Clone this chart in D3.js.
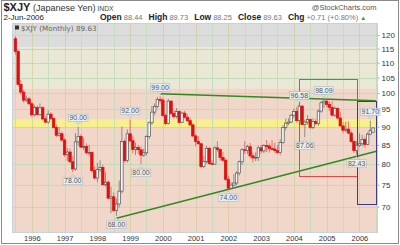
<!DOCTYPE html>
<html><head><meta charset="utf-8">
<script src="https://cdn.jsdelivr.net/npm/d3@7"></script>
<style>body{margin:0;background:#fff}svg{display:block}</style>
</head><body>
<script>
// ---------- DATA ----------
const months = [
 "1995-07","1995-08","1995-09","1995-10","1995-11","1995-12",
 "1996-01","1996-02","1996-03","1996-04","1996-05","1996-06","1996-07","1996-08","1996-09","1996-10","1996-11","1996-12",
 "1997-01","1997-02","1997-03","1997-04","1997-05","1997-06","1997-07","1997-08","1997-09","1997-10","1997-11","1997-12",
 "1998-01","1998-02","1998-03","1998-04","1998-05","1998-06","1998-07","1998-08","1998-09","1998-10","1998-11","1998-12",
 "1999-01","1999-02","1999-03","1999-04","1999-05","1999-06","1999-07","1999-08","1999-09","1999-10","1999-11","1999-12",
 "2000-01","2000-02","2000-03","2000-04","2000-05","2000-06","2000-07","2000-08","2000-09","2000-10","2000-11","2000-12",
 "2001-01","2001-02","2001-03","2001-04","2001-05","2001-06","2001-07","2001-08","2001-09","2001-10","2001-11","2001-12",
 "2002-01","2002-02","2002-03","2002-04","2002-05","2002-06","2002-07","2002-08","2002-09","2002-10","2002-11","2002-12",
 "2003-01","2003-02","2003-03","2003-04","2003-05","2003-06","2003-07","2003-08","2003-09","2003-10","2003-11","2003-12",
 "2004-01","2004-02","2004-03","2004-04","2004-05","2004-06","2004-07","2004-08","2004-09","2004-10","2004-11","2004-12",
 "2005-01","2005-02","2005-03","2005-04","2005-05","2005-06","2005-07","2005-08","2005-09","2005-10","2005-11","2005-12",
 "2006-01","2006-02","2006-03","2006-04","2006-05","2006-06"];
const open = [
 118.6,114.0,102.8,100.3,97.8,98.2,
 96.7,93.4,95.6,93.5,95.5,92.2,91.3,93.6,92.3,89.8,87.6,88.0,
 86.3,82.4,83.1,80.6,78.8,85.8,87.3,84.4,84.6,82.9,83.0,78.4,
 76.6,78.7,79.2,75.0,75.6,71.9,72.2,69.2,70.6,73.5,85.9,80.9,
 88.0,86.1,83.8,84.3,83.7,82.3,82.9,87.3,91.1,94.2,95.9,98.0,
 97.8,93.2,90.9,97.5,93.8,92.9,94.4,91.2,93.9,92.7,91.7,90.5,
 87.4,85.9,85.3,79.4,80.7,84.1,80.2,80.0,84.2,83.8,81.7,81.0,
 76.3,74.2,74.9,75.4,77.8,80.6,83.7,83.5,84.5,82.1,81.6,81.7,
 84.2,83.4,84.8,84.7,84.0,83.9,83.5,83.0,85.6,89.8,91.0,91.3,
 93.3,94.4,91.7,96.0,90.6,91.3,92.0,89.8,91.5,90.9,94.5,97.0,
 97.5,96.5,95.6,93.3,95.3,92.5,90.2,89.0,89.3,88.2,85.9,83.5,
 84.9,85.3,86.4,85.1,87.9,88.44];
const high = [
 119.6,114.6,104.2,101.0,99.2,98.8,
 97.4,96.4,96.2,96.8,96.0,92.9,94.8,94.2,92.6,90.6,89.9,88.6,
 86.8,84.2,84.0,82.0,88.2,90.0,87.9,86.8,85.4,85.0,83.3,79.5,
 80.3,81.0,79.8,78.0,76.0,74.5,73.2,71.8,76.0,90.0,86.5,89.2,
 92.0,87.5,85.6,85.0,84.6,84.0,87.6,91.5,96.0,96.8,98.8,99.0,
 98.6,93.8,98.2,97.8,94.8,95.4,94.7,94.3,94.6,93.6,92.6,90.9,
 88.0,87.4,85.6,82.0,84.7,84.4,81.0,84.6,86.0,84.0,83.1,81.5,
 77.2,75.6,77.5,78.2,80.9,84.2,86.0,85.0,85.5,83.0,83.0,84.8,
 85.0,85.2,86.3,85.4,86.3,85.6,85.0,86.4,90.4,92.3,92.4,93.6,
 95.2,95.6,96.58,96.2,92.0,93.3,92.4,92.4,92.2,95.0,97.5,98.09,
 98.0,97.4,97.5,95.9,95.6,94.2,91.2,91.4,91.5,88.8,86.2,86.0,
 88.1,87.7,87.2,88.4,91.70,89.73];
const low = [
 112.8,102.0,99.5,97.0,97.2,96.3,
 92.8,93.0,93.0,93.2,91.8,91.0,90.8,91.9,89.4,87.1,87.2,85.8,
 81.9,80.8,80.2,78.0,78.4,84.8,84.0,83.6,82.4,82.0,77.9,76.2,
 75.6,78.0,74.8,74.5,71.6,68.6,68.8,68.0,69.8,73.0,80.4,80.4,
 85.5,82.8,82.3,82.6,80.0,81.8,82.3,86.6,90.5,93.3,95.3,96.8,
 92.8,90.4,90.6,93.3,92.3,92.4,90.9,91.0,92.3,91.4,90.1,87.1,
 84.6,85.0,79.0,79.0,80.2,79.8,79.6,79.9,83.2,80.9,80.6,75.9,
 74.0,74.1,74.6,74.9,77.2,79.8,82.6,82.6,81.5,80.4,80.8,80.8,
 82.7,82.8,83.1,83.0,83.6,82.9,82.6,82.3,85.3,89.0,90.4,91.0,
 92.5,91.2,90.6,90.3,87.06,90.6,89.3,89.3,90.4,90.2,94.0,95.4,
 95.6,94.5,92.9,92.8,92.0,90.0,88.1,88.5,87.9,85.6,82.9,82.43,
 84.4,84.6,84.2,84.9,87.6,88.25];
const close = [
 114.0,102.8,100.3,97.8,98.2,96.7,
 93.4,95.6,93.5,95.5,92.2,91.3,93.6,92.3,89.8,87.6,88.0,86.3,
 82.4,83.1,80.6,78.8,85.8,87.3,84.4,84.6,82.9,83.0,78.4,76.6,
 78.7,79.2,75.0,75.6,71.9,72.2,69.2,70.6,73.5,85.9,80.9,88.0,
 86.1,83.8,84.3,83.7,82.3,82.9,87.3,91.1,94.2,95.9,98.0,97.8,
 93.2,90.9,97.5,93.8,92.9,94.4,91.2,93.9,92.7,91.7,90.5,87.4,
 85.9,85.3,79.4,80.7,84.1,80.2,80.0,84.2,83.8,81.7,81.0,76.3,
 74.2,74.9,75.4,77.8,80.6,83.7,83.5,84.5,82.1,81.6,81.7,84.2,
 83.4,84.8,84.7,84.0,83.9,83.5,83.0,85.6,89.8,91.0,91.3,93.3,
 94.4,91.7,96.0,90.6,91.3,92.0,89.8,91.5,90.9,94.5,97.0,97.5,
 96.5,95.6,93.3,95.3,92.5,90.2,89.0,89.3,88.2,85.9,83.5,84.9,
 85.3,86.4,85.1,87.9,88.92,89.63];

const yTicks = [70,75,80,85,90,95,100,105,110,115,120];
const xYears = [1996,1997,1998,1999,2000,2001,2002,2003,2004,2005,2006];

// price-label annotations
const annoMonths = ["1997-06","1999-01","1999-12","1997-04","1999-05","1998-08","2002-01","2004-05","2004-03","2004-12","2005-12","2006-05"];
const annoValues = [90.00,92.00,99.00,78.00,80.00,68.00,74.00,87.06,96.58,98.09,82.43,91.70];
const annoKinds  = ["high","high","high","low","low","low","low","low","high","high","low","high"];

// zones (values)
const grayZoneFrom = 115.5;
const pinkZoneTo = 101.5;
const yellowBand = [89.9, 92.1];

// trend lines [fractional year, value]
const upperTrend = [[1999.917, 99.8],[2006.5, 97.6]];
const lowerTrend = [[1998.583, 67.5],[2006.55, 83.4]];
// boxes [year0, year1, valueTop, valueBottom]
const redBox  = [2004.167, 2005.936, 104.4, 76.9];
const blueBox = [2005.94, 2006.507, 97.6, 70.7];

// ---------- CHART ----------
const W=400,H=245;
const svg=d3.select("body").append("svg").attr("width",W).attr("height",H)
  .style("font-family","'Liberation Sans',Arial,sans-serif");
const P={l:12.5,r:377.5,t:23.5,b:232.5};
const toYear=m=>{const a=m.split("-").map(Number);return a[0]+(a[1]-1)/12;};
const x=d3.scaleLinear().domain([1996,2006]).range([31.8,359.4]);
const y=d3.scaleLog().domain([70,120]).range([206.7,35]);
const px=v=>Math.round(v)+0.5;

// outer border
svg.append("rect").attr("x",1.5).attr("y",0.5).attr("width",397).attr("height",243)
  .attr("fill","none").attr("stroke","#8a8a8a");

svg.append("clipPath").attr("id","clip").append("rect")
  .attr("x",P.l).attr("y",P.t).attr("width",P.r-P.l).attr("height",P.b-P.t);
const g=svg.append("g").attr("clip-path","url(#clip)");

// zones
g.append("rect").attr("x",P.l).attr("y",P.t).attr("width",P.r-P.l).attr("height",y(grayZoneFrom)-P.t).attr("fill","#dcdcdc");
g.append("rect").attr("x",P.l).attr("y",y(grayZoneFrom)).attr("width",P.r-P.l).attr("height",y(pinkZoneTo)-y(grayZoneFrom)).attr("fill","#e9e7d5");
g.append("rect").attr("x",P.l).attr("y",y(pinkZoneTo)).attr("width",P.r-P.l).attr("height",P.b-y(pinkZoneTo)).attr("fill","#f1d7ca");
g.append("rect").attr("x",P.l).attr("y",y(yellowBand[1])).attr("width",P.r-P.l).attr("height",y(yellowBand[0])-y(yellowBand[1])).attr("fill","#f7f08c");

// grid
g.selectAll("line.hg").data(yTicks).join("line").attr("class","hg")
  .attr("x1",P.l).attr("x2",P.r).attr("y1",d=>px(y(d))).attr("y2",d=>px(y(d)))
  .attr("stroke","#bfdcb6").attr("stroke-width",1);
const halfYears=d3.range(1995.5,2006.6,0.5);
g.selectAll("line.vg").data(halfYears).join("line").attr("class","vg")
  .attr("x1",d=>px(x(d))).attr("x2",d=>px(x(d))).attr("y1",P.t).attr("y2",P.b)
  .attr("stroke",d=>Number.isInteger(d)?"#cfcc98":"#c6dcbc")
  .attr("stroke-dasharray",d=>Number.isInteger(d)?"2,1":null);

// header in plot
g.append("rect").attr("x",15).attr("y",25.5).attr("width",4).attr("height",4).attr("fill","#333");
g.append("text").attr("x",21).attr("y",30.5).attr("font-family","'DejaVu Sans',Verdana,sans-serif")
  .attr("font-size",7.2).attr("fill","#666").text("$XJY (Monthly) 89.63");

// trend lines and boxes
const line=d3.line().x(d=>x(d[0])).y(d=>y(d[1]));
g.append("path").attr("d",line(upperTrend)).attr("fill","none").attr("stroke","#2e8b22").attr("stroke-width",1.5);
g.append("path").attr("d",line(lowerTrend)).attr("fill","none").attr("stroke","#2e8b22").attr("stroke-width",1.5);
g.append("rect").attr("x",px(x(redBox[0]))).attr("y",px(y(redBox[2]))).attr("width",Math.round(x(redBox[1])-x(redBox[0]))).attr("height",Math.round(y(redBox[3])-y(redBox[2])))
  .attr("fill","none").attr("stroke","#e8463f").attr("stroke-width",1);
g.append("rect").attr("x",px(x(blueBox[0]))).attr("y",px(y(blueBox[2]))).attr("width",Math.round(x(blueBox[1])-x(blueBox[0]))).attr("height",Math.round(y(blueBox[3])-y(blueBox[2])))
  .attr("fill","none").attr("stroke","#3b3b8f").attr("stroke-width",1);

// candles
const data=months.map((m,i)=>({t:toYear(m),o:open[i],h:high[i],l:low[i],c:close[i],pc:i>0?close[i-1]:open[i]}));
const cw=2.5;
const cg=g.append("g");
data.forEach(d=>{
  const down=d.c<d.o, red=d.c<d.pc;
  const col=red?"#e01010":"#555";
  const cx=x(d.t);
  cg.append("line").attr("x1",cx).attr("x2",cx).attr("y1",y(d.h)).attr("y2",y(d.l)).attr("stroke",red?"#ee5555":"#777").attr("stroke-width",0.8);
  const top=y(Math.max(d.o,d.c)), bot=y(Math.min(d.o,d.c));
  cg.append("rect").attr("x",cx-cw/2).attr("y",top).attr("width",cw).attr("height",Math.max(0.8,bot-top))
    .attr("fill",down?(red?"#e01010":"#111"):"#f4f4f4").attr("stroke",col).attr("stroke-width",0.7);
});

// plot frame
svg.append("rect").attr("x",P.l).attr("y",P.t).attr("width",P.r-P.l).attr("height",P.b-P.t)
  .attr("fill","none").attr("stroke","#8fb3cf").attr("stroke-dasharray","1,1");

// annotations
const ag=svg.append("g");
annoMonths.forEach((m,i)=>{
  const cx=x(toYear(m)), py=y(annoValues[i]), bw=19.5, bh=7.5;
  const isHigh=annoKinds[i]==="high";
  const by=isHigh?py-5-bh:py+5;
  const tri=isHigh?`M${cx-2.5},${by+bh} L${cx},${by+bh+3} L${cx+2.5},${by+bh} Z`:`M${cx-2.5},${by} L${cx},${by-3} L${cx+2.5},${by} Z`;
  ag.append("path").attr("d",tri).attr("fill","#dfe7ea").attr("stroke","#a9b8be").attr("stroke-width",0.6);
  ag.append("rect").attr("x",cx-bw/2).attr("y",by).attr("width",bw).attr("height",bh)
    .attr("fill","#e8eef0").attr("stroke","#a9b8be").attr("stroke-width",0.6);
  ag.append("text").attr("x",cx).attr("y",by+bh-1.4).attr("text-anchor","middle")
    .attr("font-size",7).attr("fill","#555").text(annoValues[i].toFixed(2));
});

// right axis
const ya=svg.append("g").attr("transform",`translate(${P.r},0)`)
  .call(d3.axisRight(y).tickValues(yTicks).tickSize(2).tickFormat(d3.format("d")));
ya.select(".domain").remove();
ya.selectAll("line").attr("stroke","#8fb3cf");
ya.selectAll("text").attr("font-size",8).attr("fill","#333").attr("font-family","'Liberation Sans',Arial,sans-serif").attr("x",4);

// bottom axis
const xa=svg.append("g").attr("transform",`translate(0,${P.b})`)
  .call(d3.axisBottom(x).tickValues(xYears).tickSize(0).tickFormat(d3.format("d")));
xa.select(".domain").remove();
xa.selectAll("text").attr("font-size",7.5).attr("fill","#333").attr("font-family","'Liberation Sans',Arial,sans-serif").attr("y",3.5);

// title
const t1=svg.append("text").attr("x",3.5).attr("y",11).attr("fill","#222");
t1.append("tspan").attr("font-weight","bold").attr("font-size",11).text("$XJY");
t1.append("tspan").attr("font-size",9).attr("fill","#333").text(" (Japanese Yen)");
t1.append("tspan").attr("font-size",6.8).attr("fill","#444").text(" INDX");
svg.append("text").attr("x",3.5).attr("y",19.5).attr("font-size",8).attr("fill","#222").text("2-Jun-2006");
const t2=svg.append("text").attr("x",100).attr("y",19.5).attr("font-size",8);
[["Open","88.44"],["High","89.73"],["Low","88.25"],["Close","89.63"],["Chg","+0.71 (+0.80%)"]].forEach((p,i)=>{
  t2.append("tspan").attr("font-weight","bold").attr("font-size",8.5).attr("fill","#222").attr("dx",i?6:0).text(p[0]);
  t2.append("tspan").attr("font-size",7.5).attr("fill","#777").attr("dx",2).text(p[1]);
});
t2.append("tspan").attr("font-size",6).attr("fill","#2a9a2a").attr("dx",2).text("▲");
svg.append("text").attr("x",376.5).attr("y",9.5).attr("text-anchor","end").attr("font-size",7.5).attr("fill","#555").text("@StockCharts.com");
</script>
</body></html>
